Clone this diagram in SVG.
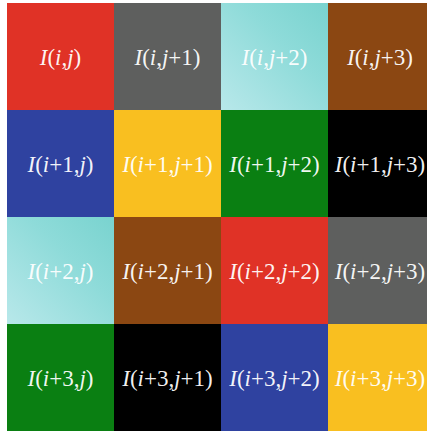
<svg xmlns="http://www.w3.org/2000/svg" width="427" height="432" viewBox="0 0 427 432">
<defs>
<linearGradient id="cyan" x1="0" y1="1" x2="1" y2="0">
<stop offset="0" stop-color="#b8e8ea"/>
<stop offset="0.6" stop-color="#8edbd9"/>
<stop offset="1" stop-color="#79d3cf"/>
</linearGradient>
<style>
text{font-family:"Liberation Serif","Times New Roman",serif;font-size:23px;fill:#fff;fill-opacity:0.95;text-anchor:middle}
.it{font-style:italic}
</style>
</defs>
<rect width="427" height="432" fill="#fff"/>
<g id="c00"><rect x="7" y="3" width="107" height="107" fill="#e03226"/><text x="60.5" y="64.5"><tspan class="it">I</tspan>(<tspan class="it">i</tspan>,<tspan class="it">j</tspan>)</text></g>
<g id="c01"><rect x="114" y="3" width="107" height="107" fill="#5e5f5e"/><text x="167.5" y="64.5"><tspan class="it">I</tspan>(<tspan class="it">i</tspan>,<tspan class="it">j</tspan>+1)</text></g>
<g id="c02"><rect x="221" y="3" width="107" height="107" fill="url(#cyan)"/><text x="274.5" y="64.5"><tspan class="it">I</tspan>(<tspan class="it">i</tspan>,<tspan class="it">j</tspan>+2)</text></g>
<g id="c03"><rect x="328" y="3" width="99" height="107" fill="#8b4712"/><text x="380" y="64.5"><tspan class="it">I</tspan>(<tspan class="it">i</tspan>,<tspan class="it">j</tspan>+3)</text></g>

<g id="c10"><rect x="7" y="110" width="107" height="107" fill="#2f42a0"/><text x="60.5" y="171.5"><tspan class="it">I</tspan>(<tspan class="it">i</tspan>+1,<tspan class="it">j</tspan>)</text></g>
<g id="c11"><rect x="114" y="110" width="107" height="107" fill="#f9bf20"/><text x="167.5" y="171.5"><tspan class="it">I</tspan>(<tspan class="it">i</tspan>+1,<tspan class="it">j</tspan>+1)</text></g>
<g id="c12"><rect x="221" y="110" width="107" height="107" fill="#0a7f12"/><text x="274.5" y="171.5"><tspan class="it">I</tspan>(<tspan class="it">i</tspan>+1,<tspan class="it">j</tspan>+2)</text></g>
<g id="c13"><rect x="328" y="110" width="99" height="107" fill="#000"/><text x="380" y="171.5"><tspan class="it">I</tspan>(<tspan class="it">i</tspan>+1,<tspan class="it">j</tspan>+3)</text></g>

<g id="c20"><rect x="7" y="217" width="107" height="107" fill="url(#cyan)"/><text x="60.5" y="278.5"><tspan class="it">I</tspan>(<tspan class="it">i</tspan>+2,<tspan class="it">j</tspan>)</text></g>
<g id="c21"><rect x="114" y="217" width="107" height="107" fill="#8b4712"/><text x="167.5" y="278.5"><tspan class="it">I</tspan>(<tspan class="it">i</tspan>+2,<tspan class="it">j</tspan>+1)</text></g>
<g id="c22"><rect x="221" y="217" width="107" height="107" fill="#e03226"/><text x="274.5" y="278.5"><tspan class="it">I</tspan>(<tspan class="it">i</tspan>+2,<tspan class="it">j</tspan>+2)</text></g>
<g id="c23"><rect x="328" y="217" width="99" height="107" fill="#5e5f5e"/><text x="380" y="278.5"><tspan class="it">I</tspan>(<tspan class="it">i</tspan>+2,<tspan class="it">j</tspan>+3)</text></g>

<g id="c30"><rect x="7" y="324" width="107" height="107" fill="#0a7f12"/><text x="60.5" y="385.5"><tspan class="it">I</tspan>(<tspan class="it">i</tspan>+3,<tspan class="it">j</tspan>)</text></g>
<g id="c31"><rect x="114" y="324" width="107" height="107" fill="#000"/><text x="167.5" y="385.5"><tspan class="it">I</tspan>(<tspan class="it">i</tspan>+3,<tspan class="it">j</tspan>+1)</text></g>
<g id="c32"><rect x="221" y="324" width="107" height="107" fill="#2f42a0"/><text x="274.5" y="385.5"><tspan class="it">I</tspan>(<tspan class="it">i</tspan>+3,<tspan class="it">j</tspan>+2)</text></g>
<g id="c33"><rect x="328" y="324" width="99" height="107" fill="#f9bf20"/><text x="380" y="385.5"><tspan class="it">I</tspan>(<tspan class="it">i</tspan>+3,<tspan class="it">j</tspan>+3)</text></g>
<g id="connectors"/>
</svg>
